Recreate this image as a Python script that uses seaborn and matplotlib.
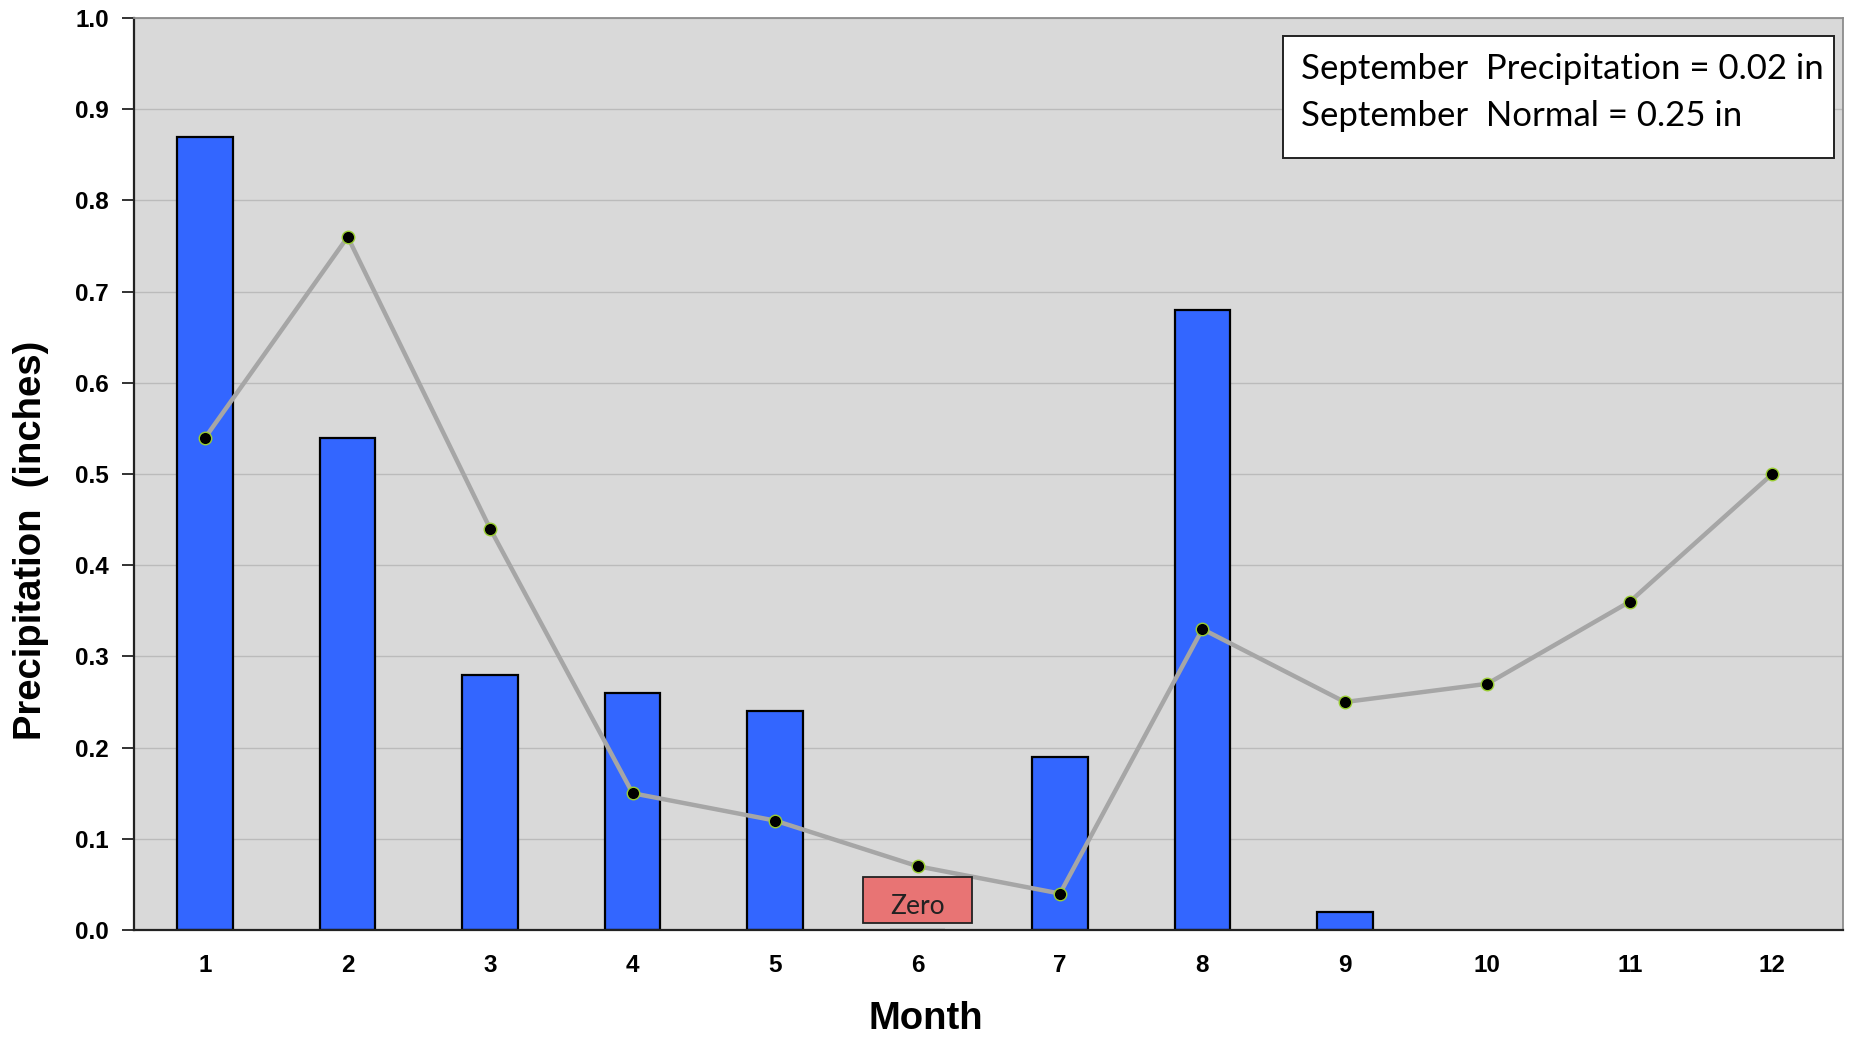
import numpy as np
import pandas as pd
import matplotlib
matplotlib.use("Agg")
import matplotlib.pyplot as plt
import seaborn as sns
from matplotlib.patches import Rectangle

# Data
months = ["1", "2", "3", "4", "5", "6", "7", "8", "9", "10", "11", "12"]
precip = [0.87, 0.54, 0.28, 0.26, 0.24, 0.0, 0.19, 0.68, 0.02, np.nan, np.nan, np.nan]
normal = [0.54, 0.76, 0.44, 0.15, 0.12, 0.07, 0.04, 0.33, 0.25, 0.27, 0.36, 0.50]
y_ticks = [0.0, 0.1, 0.2, 0.3, 0.4, 0.5, 0.6, 0.7, 0.8, 0.9, 1.0]
info_lines = ["September  Precipitation = 0.02 in", "September  Normal = 0.25 in"]

df = pd.DataFrame({"Month": months, "Precip": precip, "Normal": normal})

sns.set_style("white")
plt.rcParams["font.family"] = ["Liberation Sans", "DejaVu Sans"]
plt.rcParams["text.color"] = "black"
plt.rcParams["axes.labelcolor"] = "black"
plt.rcParams["xtick.color"] = "black"
plt.rcParams["ytick.color"] = "black"

fig = plt.figure(figsize=(18.54, 10.41), dpi=100)
ax = fig.add_axes([0.0723, 0.1066, 0.922, 0.8761])
ax.set_facecolor("#D9D9D9")

# horizontal grid
for v in y_ticks[1:]:
    ax.axhline(v, color="#BBBBBB", linewidth=1.0, zorder=0)

sns.barplot(data=df, x="Month", y="Precip", order=months, color="#3366FF",
            width=0.39, edgecolor="black", linewidth=1.6, saturation=1,
            ax=ax, zorder=2)

sns.pointplot(data=df, x="Month", y="Normal", order=months, color="#A6A6A6",
              markers="o", errorbar=None, ax=ax, zorder=3,
              linewidth=3.2, markersize=9,
              markerfacecolor="black", markeredgecolor="#9ACD32",
              markeredgewidth=1.0)

# "Zero" label box for June
ax.add_patch(Rectangle((5 - 0.385, 0.0075), 0.77, 0.051, facecolor="#E87474",
                       edgecolor="#222222", linewidth=1.3, zorder=4))
ax.text(5, 0.026, "Zero", ha="center", va="center", fontsize=19,
        family=["Lato", "DejaVu Sans"], color="#222222", zorder=5)

ax.set_xlim(-0.5, 11.5)
ax.set_ylim(0, 1.0)
ax.set_yticks(y_ticks)
ax.set_yticklabels([f"{v:.1f}" for v in y_ticks], fontsize=17.5, fontweight="bold")
ax.set_xticks(range(len(months)))
ax.set_xticklabels(months, fontsize=17.5, fontweight="bold")
ax.tick_params(axis="x", length=0, pad=17)
ax.set_xticks(np.arange(-0.5, 12.0, 1.0), minor=True)
ax.tick_params(axis="x", which="minor", direction="out", length=9, width=1.3,
               color="#222222")
ax.tick_params(axis="y", direction="out", length=9, width=1.3, color="#222222",
               labelcolor="black", pad=9, left=True)

for side in ["left", "bottom"]:
    ax.spines[side].set_color("#222222")
    ax.spines[side].set_linewidth(1.6)
for side in ["top", "right"]:
    ax.spines[side].set_color("#8C8C8C")
    ax.spines[side].set_linewidth(1.3)

ax.set_xlabel("Month", fontsize=27.5, fontweight="bold", color="black")
ax.xaxis.set_label_coords(0.463, -0.078)
ax.set_ylabel("Precipitation  (inches)", fontsize=27.5, fontweight="bold",
              color="black")
ax.yaxis.set_label_coords(-0.050, 0.427)

# info box
ax.add_patch(Rectangle((0.672, 0.847), 0.3225, 0.1336, transform=ax.transAxes,
                       facecolor="white", edgecolor="#222222", linewidth=1.4,
                       zorder=6))
for txt, yy in zip(info_lines, [0.9443, 0.8925]):
    ax.text(0.6826, yy, txt, transform=ax.transAxes, ha="left", va="center",
            fontsize=25, family=["Lato", "DejaVu Sans"], color="black",
            zorder=7)

fig.savefig("out.png", dpi=100)
